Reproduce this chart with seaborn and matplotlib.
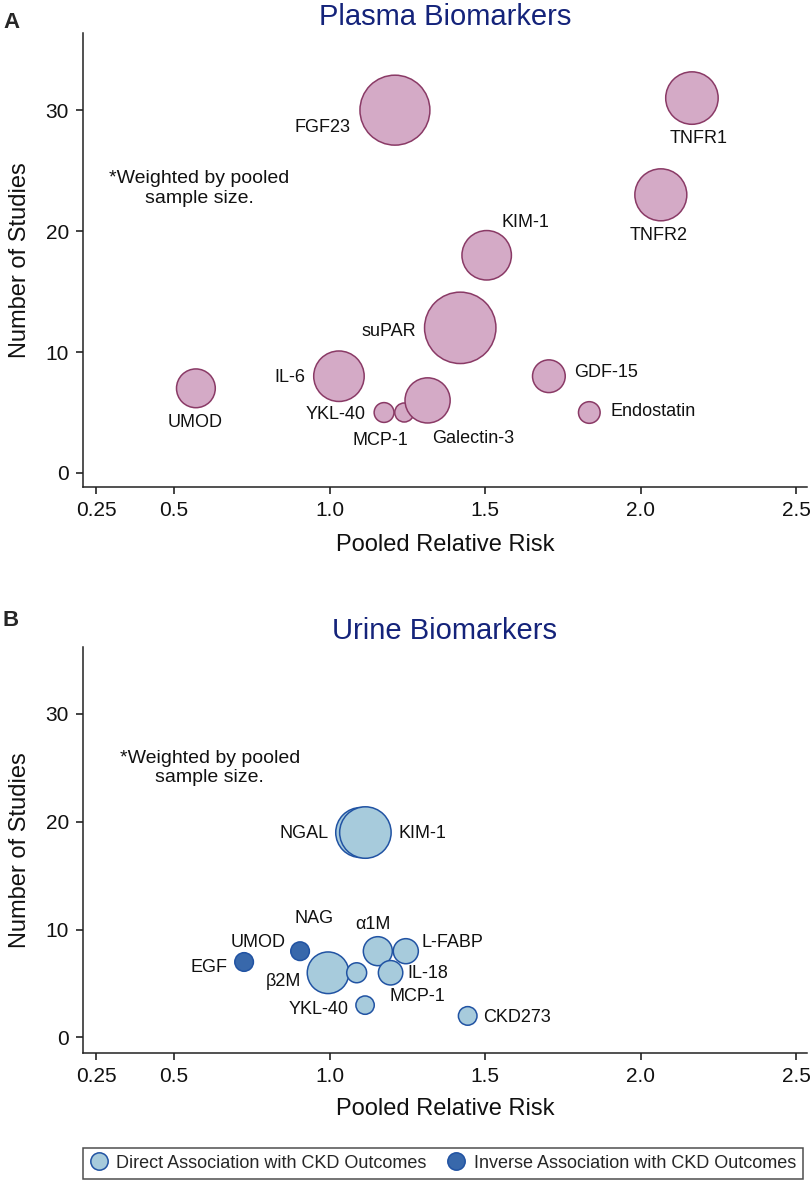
import matplotlib
matplotlib.use("Agg")
import matplotlib.pyplot as plt
from matplotlib.lines import Line2D
import pandas as pd
import seaborn as sns

# Panel A: plasma biomarkers
plasma_names = ["FGF23", "TNFR1", "TNFR2", "KIM-1", "suPAR", "IL-6", "UMOD",
                "YKL-40", "MCP-1", "Galectin-3", "GDF-15", "Endostatin"]
plasma_rr = [1.21, 2.165, 2.065, 1.505, 1.42, 1.03, 0.57, 1.175, 1.24, 1.315, 1.705, 1.835]
plasma_studies = [30, 31, 23, 18, 12, 8, 7, 5, 5, 6, 8, 5]
# relative pooled sample size (bubble area), largest = 100
plasma_weight = [96, 54, 53, 48, 100, 50, 29.5, 7.7, 7.1, 40, 21, 9.2]

# Panel B: urine biomarkers
urine_names = ["NGAL", "KIM-1", "EGF", "UMOD", "NAG", "β2M", "MCP-1", "α1M",
               "L-FABP", "IL-18", "YKL-40", "CKD273"]
urine_rr = [1.10, 1.115, 0.725, 0.905, 1.02, 0.995, 1.087, 1.155, 1.245, 1.196, 1.114, 1.444]
urine_studies = [19, 19, 7, 8, 6, 6, 6, 8, 8, 6, 3, 2]
urine_weight = [49, 52, 6.8, 6.8, 13.3, 34, 7.8, 16.5, 12.3, 11.7, 6.6, 6.8]
urine_assoc = ["Direct", "Direct", "Inverse", "Inverse", "Direct", "Direct", "Direct",
               "Direct", "Direct", "Direct", "Direct", "Direct"]

x_ticks = [0.25, 0.5, 1.0, 1.5, 2.0, 2.5]
x_ticklabels = ["0.25", "0.5", "1.0", "1.5", "2.0", "2.5"]
y_ticks = [0, 10, 20, 30]
legend_labels = ["Direct Association with CKD Outcomes", "Inverse Association with CKD Outcomes"]

# label placement: (dx px, dy px, ha)
plasma_offsets = {
    "FGF23": (-44, -17, "right"), "TNFR1": (7, -40, "center"), "TNFR2": (-2, -41, "center"),
    "KIM-1": (39, 33, "center"), "suPAR": (-44, -4, "right"), "IL-6": (-34, -1, "right"),
    "UMOD": (-1, -34, "center"), "YKL-40": (-18, -2, "right"), "MCP-1": (-24, -28, "center"),
    "Galectin-3": (46, -38, "center"), "GDF-15": (25, 4, "left"), "Endostatin": (21, 1, "left"),
}
urine_offsets = {
    "NGAL": (-32, -1, "right"), "KIM-1": (33, -1, "left"), "EGF": (-17, -6, "right"),
    "UMOD": (-42, 9, "center"), "NAG": (-22, 54, "center"), "β2M": (-27, -9, "right"),
    "MCP-1": (61, -24, "center"), "α1M": (-5, 27, "center"), "L-FABP": (16, 9, "left"),
    "IL-18": (17, -1, "left"), "YKL-40": (-16, -4, "right"), "CKD273": (15, -2, "left"),
}

PINK = "#d4aac6"
PINK_EDGE = "#8a3a66"
LIGHT_BLUE = "#a7cbdc"
DARK_BLUE = "#3868ab"
BLUE_EDGE = "#2153a3"
TITLE_COLOR = "#14237a"
MAX_S = 2642  # marker area (pt^2) for weight 100

sns.set_theme(style="ticks")
plt.rcParams["font.family"] = ["Liberation Sans", "DejaVu Sans"]

W, H = 810, 1181
fig = plt.figure(figsize=(W / 100, H / 100), dpi=100)
ax_a = fig.add_axes([83 / W, 1 - 487 / H, 724 / W, 454 / H])
ax_b = fig.add_axes([83 / W, 1 - 1052.7 / H, 724 / W, 405.7 / H])

plasma = pd.DataFrame({"name": plasma_names, "rr": plasma_rr,
                       "studies": plasma_studies, "weight": plasma_weight})
urine = pd.DataFrame({"name": urine_names, "rr": urine_rr, "studies": urine_studies,
                      "weight": urine_weight, "assoc": urine_assoc})

sns.scatterplot(data=plasma, x="rr", y="studies", size="weight", sizes=(0, MAX_S),
                size_norm=(0, 100), color=PINK, edgecolor=PINK_EDGE, linewidth=1.1,
                alpha=1, legend=False, ax=ax_a, zorder=3)
sns.scatterplot(data=urine, x="rr", y="studies", size="weight", sizes=(0, MAX_S),
                size_norm=(0, 100), hue="assoc",
                palette={"Direct": LIGHT_BLUE, "Inverse": DARK_BLUE},
                edgecolor=BLUE_EDGE, linewidth=1.1, alpha=1, legend=False, ax=ax_b, zorder=3)


def style_axis(ax, df, offsets, title, ylim, note_xy, xlabel_y):
    for _, row in df.iterrows():
        dx, dy, ha = offsets[row["name"]]
        ax.annotate(row["name"], (row["rr"], row["studies"]), xytext=(dx, dy),
                    textcoords="offset pixels", ha=ha, va="center", fontsize=13,
                    color="#111111")
    ax.text(note_xy[0], note_xy[1], "*Weighted by pooled\nsample size.", ha="center",
            va="center", fontsize=14, color="#111111", linespacing=1.2)
    ax.set_xlim(0.207, 2.535)
    ax.set_ylim(*ylim)
    ax.set_xticks(x_ticks)
    ax.set_xticklabels(x_ticklabels)
    ax.set_yticks(y_ticks)
    ax.tick_params(direction="out", length=5, width=1.1, labelsize=15, pad=5,
                   colors="#111111")
    ax.set_xlabel("Pooled Relative Risk", fontsize=17, color="#111111")
    ax.set_ylabel("Number of Studies", fontsize=17, color="#111111")
    ax.xaxis.set_label_coords(0.5, xlabel_y)
    ax.yaxis.set_label_coords(-0.072, 0.5)
    ax.set_title(title, fontsize=21, color=TITLE_COLOR, pad=5.5)
    sns.despine(ax=ax)
    for side in ["left", "bottom"]:
        ax.spines[side].set_linewidth(1.1)
        ax.spines[side].set_color("#222222")


style_axis(ax_a, plasma, plasma_offsets, "Plasma Biomarkers", (-1.16, 36.38),
           (0.58, 23.5), -0.1035)
style_axis(ax_b, urine, urine_offsets, "Urine Biomarkers", (-1.41, 36.2),
           (0.615, 25.0), -0.112)

fig.text(11 / W, 1 - 22.5 / H, "A", fontsize=16, fontweight="bold", ha="center", va="center")
fig.text(11 / W, 1 - 621 / H, "B", fontsize=16, fontweight="bold", ha="center", va="center")

handles = [Line2D([], [], marker="o", linestyle="none", markersize=12.5,
                  markerfacecolor=c, markeredgecolor=BLUE_EDGE, markeredgewidth=1.1)
           for c in (LIGHT_BLUE, DARK_BLUE)]
leg = fig.legend(handles, legend_labels, loc="lower right",
                 bbox_to_anchor=(803 / W, 1 - 1179 / H), ncol=2, fontsize=13,
                 frameon=True, fancybox=False, edgecolor="#222222", borderaxespad=0,
                 handlelength=1.0, handletextpad=0.45, columnspacing=1.15, borderpad=0.4)
leg.get_frame().set_linewidth(1.1)

fig.savefig("out.png", dpi=100)
